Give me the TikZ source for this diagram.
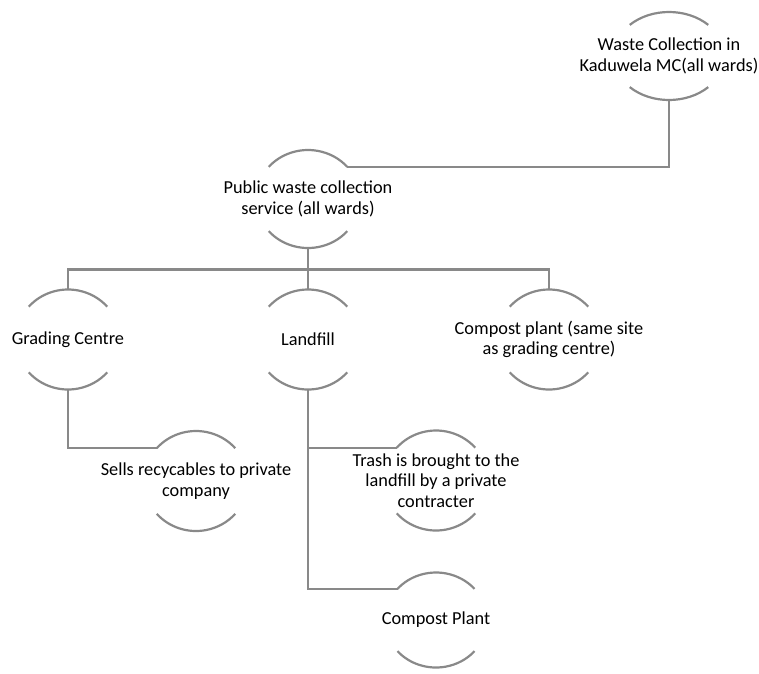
\documentclass[tikz,border=0pt]{standalone}
\usepackage{fontspec}
\setmainfont{Carlito}
\definecolor{linegray}{RGB}{137,137,137}
\tikzset{
  arcline/.style={draw=linegray, line width=2.2pt},
  conn/.style={draw=linegray, line width=2.2pt},
  label/.style={align=center, font=\fontsize{18.3}{20.5}\selectfont, text=black, inner sep=0pt}
}
\newcommand\nodearcs[4]{%
  \draw[arcline] ([shift={(180-#4:#2 and #3)}]#1.center) coordinate (#1-tl)
     arc[start angle=180-#4, end angle=#4, x radius=#2, y radius=#3] coordinate (#1-tr);
  \draw[arcline] ([shift={(180+#4:#2 and #3)}]#1.center)
     arc[start angle=180+#4, end angle=360-#4, x radius=#2, y radius=#3];
  \coordinate (#1-t) at ([yshift=#3]#1.center);
  \coordinate (#1-b) at ([yshift=-#3]#1.center);
}
\begin{document}
\begin{tikzpicture}[x=1pt,y=1pt]
\useasboundingbox (0,0) rectangle (759,-673);
\node[label] (n1) at (669,-56) {Waste Collection in\\Kaduwela MC(all wards)};
\node[label] (n2) at (308,-199) {Public waste collection\\service (all wards)};
\node[label] (n3) at (68,-339.5) {Grading Centre};
\node[label] (n4) at (308,-339.5) {Landfill};
\node[label] (n5) at (549,-339.5) {Compost plant (same site\\as grading centre)};
\node[label] (n6) at (196,-481) {Sells recycables to private\\company};
\node[label] (n7) at (436,-480.5) {Trash is brought to the\\landfill by a private\\contracter};
\node[label] (n8) at (436,-620) {Compost Plant};
\nodearcs{n1}{55.5pt}{44pt}{45}
\nodearcs{n2}{52pt}{49pt}{41}
\nodearcs{n3}{52pt}{50pt}{41}
\nodearcs{n4}{52pt}{50pt}{41}
\nodearcs{n5}{52pt}{50pt}{41}
\nodearcs{n6}{52pt}{50pt}{41}
\nodearcs{n7}{52pt}{50pt}{41}
\nodearcs{n8}{51pt}{47.5pt}{41}
\draw[conn] (n1-b) |- (n2-tr);
\draw[conn] (n2-b) -- (n4-t);
\draw[conn] (n3-t) -- ++(0,20) -| (n5-t);
\draw[conn] (n3-b) |- (n6-tl);
\draw[conn] (n4-b) |- (n8-tl);
\draw[conn] (n4-b |- n7-tl) -- (n7-tl);
\end{tikzpicture}
\end{document}
